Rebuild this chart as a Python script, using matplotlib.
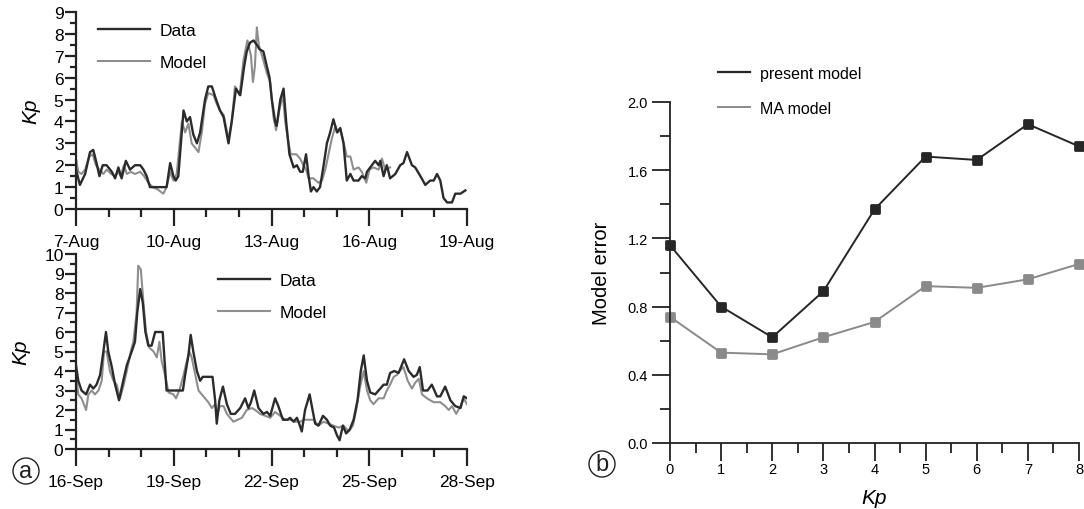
import matplotlib
matplotlib.use("Agg")
import matplotlib.pyplot as plt
from matplotlib.markers import MarkerStyle
from matplotlib.patches import Ellipse
from matplotlib.lines import Line2D
from matplotlib.ticker import MultipleLocator

plt.rcParams['font.family'] = ['Liberation Sans', 'DejaVu Sans']

# ---------------- data ----------------
# Panel (a) top: days since 7-Aug
aug_tick_labels = ["7-Aug", "10-Aug", "13-Aug", "16-Aug", "19-Aug"]
aug_data_t = [0.00, 0.12, 0.28, 0.43, 0.53, 0.63, 0.72, 0.82, 0.94, 1.10, 1.20, 1.30, 1.40, 1.53,
              1.66, 1.81, 1.97, 2.07, 2.17, 2.27, 2.78, 2.89, 2.99, 3.06, 3.14, 3.30, 3.40, 3.50,
              3.60, 3.71, 3.81, 3.96, 4.06, 4.17, 4.30, 4.42, 4.53, 4.68, 4.78, 4.91, 5.04, 5.16,
              5.24, 5.34, 5.45, 5.55, 5.63, 5.75, 5.86, 5.94, 6.01, 6.11, 6.16, 6.27, 6.37, 6.45,
              6.55, 6.68, 6.78, 6.88, 6.96, 7.06, 7.14, 7.21, 7.29, 7.39, 7.49, 7.60, 7.70, 7.80,
              7.90, 8.01, 8.11, 8.21, 8.31, 8.42, 8.52, 8.67, 8.77, 8.88, 8.93, 9.08, 9.18, 9.29,
              9.34, 9.44, 9.54, 9.64, 9.80, 9.95, 10.05, 10.16, 10.31, 10.41, 10.57, 10.72, 10.87,
              10.98, 11.08, 11.18, 11.28, 11.39, 11.54, 11.64, 11.80, 11.95]
aug_data_kp = [1.8, 1.1, 1.6, 2.6, 2.7, 2.1, 1.5, 2.0, 2.0, 1.7, 1.4, 1.9, 1.4, 2.2,
               1.8, 2.0, 2.0, 1.8, 1.5, 1.0, 1.0, 2.1, 1.5, 1.3, 1.5, 4.5, 4.0, 4.2,
               3.4, 3.0, 3.5, 5.0, 5.6, 5.6, 5.0, 4.5, 4.2, 3.0, 4.0, 5.5, 5.2, 6.5,
               7.2, 7.6, 7.7, 7.5, 7.3, 7.2, 6.5, 6.0, 5.0, 4.0, 3.8, 5.0, 5.5, 4.0,
               2.5, 1.9, 2.0, 1.7, 1.7, 2.5, 1.5, 0.8, 1.0, 0.8, 1.0, 2.0, 3.0, 3.5,
               4.1, 3.5, 3.7, 3.0, 1.3, 1.6, 1.3, 1.3, 1.5, 1.4, 1.7, 2.0, 2.2, 2.0,
               2.2, 1.5, 2.0, 1.4, 1.6, 2.0, 2.1, 2.6, 2.0, 1.9, 1.5, 1.1, 1.3,
               1.3, 1.6, 1.3, 0.5, 0.3, 0.3, 0.7, 0.7, 0.85]
aug_model_t = [0.00, 0.07, 0.17, 0.28, 0.41, 0.51, 0.61, 0.72, 0.84, 0.94, 1.08, 1.20, 1.30, 1.37,
               1.47, 1.56, 1.68, 1.81, 1.97, 2.09, 2.22, 2.35, 2.50, 2.68, 2.78, 2.89, 2.99, 3.09,
               3.25, 3.35, 3.45, 3.55, 3.76, 3.86, 3.96, 4.06, 4.22, 4.32, 4.42, 4.53, 4.68, 4.78,
               4.88, 5.02, 5.14, 5.26, 5.37, 5.43, 5.49, 5.55, 5.61, 5.71, 5.86, 5.96, 6.06, 6.14,
               6.25, 6.35, 6.42, 6.49, 6.59, 6.76, 6.88, 6.98, 7.06, 7.14, 7.29, 7.44, 7.55, 7.65,
               7.75, 7.85, 7.96, 8.03, 8.11, 8.19, 8.31, 8.42, 8.52, 8.67, 8.77, 8.91, 9.01, 9.13,
               9.29, 9.39, 9.49, 9.64]
aug_model_kp = [2.3, 1.7, 1.6, 1.8, 2.4, 2.5, 2.0, 1.8, 1.6, 1.8, 1.6, 1.5, 1.7, 1.5,
                2.0, 1.6, 1.7, 1.6, 1.7, 1.5, 1.2, 1.0, 0.9, 0.7, 1.0, 1.7, 1.3, 1.6,
                4.0, 3.5, 3.9, 3.0, 2.6, 3.5, 4.8, 5.3, 5.2, 4.8, 4.5, 4.3, 3.2, 4.0,
                5.6, 5.2, 6.8, 7.7, 7.0, 5.8, 6.5, 8.3, 7.5, 7.0, 6.2, 5.8, 4.2, 3.6,
                4.6, 5.2, 4.0, 3.3, 2.5, 2.5, 2.3, 2.0, 1.8, 1.4, 1.4, 1.2, 1.3, 1.8,
                2.5, 3.2, 3.8, 3.5, 3.6, 3.2, 2.4, 2.4, 1.8, 1.9, 1.7, 1.2, 1.8, 1.9,
                1.8, 2.3, 1.8, 1.9]

# Panel (a) bottom: days since 16-Sep
sep_tick_labels = ["16-Sep", "19-Sep", "22-Sep", "25-Sep", "28-Sep"]
sep_data_t = [0.00, 0.07, 0.17, 0.31, 0.43, 0.53, 0.63, 0.74, 0.84, 0.92, 0.99, 1.10, 1.20, 1.32,
              1.45, 1.56, 1.71, 1.81, 1.88, 1.97, 2.05, 2.13, 2.22, 2.32, 2.43, 2.66, 2.78, 3.28,
              3.35, 3.45, 3.52, 3.60, 3.71, 3.81, 3.89, 4.19, 4.27, 4.32, 4.40, 4.51, 4.63, 4.75,
              4.88, 5.04, 5.19, 5.29, 5.37, 5.47, 5.60, 5.75, 5.86, 5.96, 6.11, 6.21, 6.35, 6.49,
              6.57, 6.68, 6.78, 6.85, 6.93, 7.03, 7.17, 7.26, 7.34, 7.44, 7.58, 7.70, 7.80, 7.92,
              8.01, 8.09, 8.19, 8.29, 8.40, 8.52, 8.64, 8.74, 8.83, 8.93, 9.03, 9.18, 9.34, 9.44,
              9.54, 9.64, 9.77, 9.90, 9.95, 10.07, 10.21, 10.36, 10.46, 10.55, 10.65, 10.79, 10.92,
              11.08, 11.18, 11.33, 11.49, 11.64, 11.80, 11.90, 12.00]
sep_data_kp = [4.3, 3.5, 3.0, 2.8, 3.3, 3.1, 3.3, 3.8, 5.0, 6.0, 5.0, 4.2, 3.3, 2.5,
               3.5, 4.3, 5.0, 5.5, 7.0, 8.2, 7.5, 6.0, 5.3, 5.3, 6.0, 6.0, 3.0, 3.0,
               3.8, 4.8, 5.85, 5.0, 4.0, 3.5, 3.7, 3.7, 2.5, 1.3, 2.5, 3.2, 2.3, 1.8,
               1.8, 2.1, 2.6, 2.1, 2.4, 3.0, 2.1, 1.8, 1.9, 1.7, 2.6, 2.2, 1.5, 1.5,
               1.6, 1.4, 1.6, 1.3, 0.9, 2.0, 2.8, 2.0, 1.3, 1.2, 1.7, 1.5, 1.2, 1.1,
               0.7, 0.45, 1.2, 0.8, 1.0, 1.5, 2.5, 4.0, 4.8, 3.5, 2.9, 2.8, 3.1, 3.3,
               3.3, 3.9, 4.0, 3.9, 4.1, 4.6, 4.0, 3.7, 3.8, 4.2, 3.0, 3.0, 3.3,
               2.7, 2.7, 3.2, 2.5, 2.2, 2.1, 2.7, 2.6]
sep_model_t = [0.00, 0.07, 0.17, 0.31, 0.38, 0.48, 0.58, 0.69, 0.79, 0.86, 0.94, 1.04, 1.15, 1.25,
               1.35, 1.45, 1.56, 1.68, 1.76, 1.86, 1.91, 1.99, 2.07, 2.15, 2.25, 2.38, 2.48, 2.56,
               2.63, 2.73, 2.84, 2.99, 3.07, 3.19, 3.30, 3.40, 3.48, 3.55, 3.66, 3.76, 3.86, 3.96,
               4.06, 4.17, 4.27, 4.34, 4.42, 4.53, 4.63, 4.83, 4.96, 5.09, 5.24, 5.40, 5.50, 5.65,
               5.81, 5.96, 6.11, 6.27, 6.42, 6.57, 6.73, 6.88, 7.00, 7.14, 7.29, 7.44, 7.60, 7.75,
               7.90, 8.06, 8.21, 8.37, 8.50, 8.60, 8.72, 8.83, 8.93, 9.03, 9.13, 9.29, 9.44, 9.54,
               9.64, 9.75, 9.85, 9.93, 10.05, 10.18, 10.31, 10.41, 10.52, 10.62, 10.77, 10.87, 10.98,
               11.08, 11.18, 11.33, 11.44, 11.54, 11.67, 11.80, 11.90, 12.00]
sep_model_kp = [3.8, 2.8, 2.6, 2.0, 2.8, 3.0, 2.8, 3.0, 3.5, 5.0, 5.0, 4.0, 3.5, 3.3,
                2.6, 3.2, 4.0, 5.0, 5.5, 7.0, 9.4, 9.2, 7.5, 6.0, 5.2, 5.0, 4.7, 5.5,
                4.5, 3.8, 2.9, 2.8, 2.6, 3.1, 3.8, 4.5, 5.0, 4.7, 3.8, 3.0, 2.8, 2.6,
                2.4, 2.1, 2.3, 1.8, 2.2, 2.2, 1.8, 1.4, 1.5, 1.6, 2.0, 2.1, 2.0, 1.8,
                1.7, 1.6, 1.9, 1.7, 1.5, 1.5, 1.4, 1.4, 1.5, 1.5, 1.5, 1.2, 1.4, 1.3,
                1.2, 1.1, 1.2, 0.9, 1.2, 2.0, 3.2, 4.0, 3.0, 2.5, 2.3, 2.6, 2.6, 3.0,
                3.3, 3.7, 3.8, 4.0, 4.2, 3.5, 3.1, 3.4, 3.6, 2.8, 2.6, 2.5, 2.4,
                2.4, 2.4, 2.2, 2.0, 2.2, 1.8, 2.2, 2.6, 2.3]

# Panel (b)
kp_levels = [0, 1, 2, 3, 4, 5, 6, 7, 8]
present_model_err = [1.16, 0.80, 0.62, 0.89, 1.37, 1.68, 1.66, 1.87, 1.74]
ma_model_err = [0.74, 0.53, 0.52, 0.62, 0.71, 0.92, 0.91, 0.96, 1.05]

# ---------------- figure ----------------
W, H = 1084, 510
fig = plt.figure(figsize=(W / 100, H / 100), dpi=100)

def rect(x0, y0, x1, y1):
    return [x0 / W, 1 - y1 / H, (x1 - x0) / W, (y1 - y0) / H]

DARK = '#2b2b2b'
GRAY = '#8e8e8e'

def style_ts(ax, ymax, labels):
    for s in ('top', 'right'):
        ax.spines[s].set_visible(False)
    for s in ('left', 'bottom'):
        ax.spines[s].set_linewidth(1.6)
        ax.spines[s].set_color('#222222')
    ax.set_xlim(0, 12)
    ax.set_ylim(0, ymax)
    ax.set_xticks([0, 3, 6, 9, 12])
    ax.set_xticklabels(labels)
    ax.xaxis.set_minor_locator(MultipleLocator(1))
    ax.set_yticks(range(0, ymax + 1))
    ax.yaxis.set_minor_locator(MultipleLocator(0.5))
    ax.tick_params(axis='x', which='major', direction='out', length=12, width=1.6,
                   labelsize=12.5, pad=6, color='#222222')
    ax.tick_params(axis='x', which='minor', direction='out', length=6, width=1.6,
                   color='#222222')
    ax.tick_params(axis='y', which='major', direction='out', length=8, width=1.6,
                   labelsize=12.5, pad=1, color='#222222')
    ax.tick_params(axis='y', which='minor', direction='out', length=4, width=1.6,
                   color='#222222')
    ax.set_ylabel('Kp', fontsize=15, style='italic', labelpad=10)

def ts_legend(ax, x, y):
    h = [Line2D([], [], color=DARK, lw=1.7), Line2D([], [], color=GRAY, lw=1.5)]
    ax.legend(h, ['Data', 'Model'], loc='upper left', bbox_to_anchor=(x / W, 1 - y / H),
              bbox_transform=fig.transFigure, frameon=False, fontsize=12.5,
              handlelength=3.0, handletextpad=0.55, labelspacing=0.95,
              borderpad=0, borderaxespad=0)

# top panel
ax1 = fig.add_axes(rect(76, 13, 467, 210))
ax1.plot(aug_model_t, aug_model_kp, color=GRAY, lw=1.5, zorder=2)
ax1.plot(aug_data_t, aug_data_kp, color=DARK, lw=1.7, zorder=3)
style_ts(ax1, 9, aug_tick_labels)
ts_legend(ax1, 98, 24)

# bottom panel
ax2 = fig.add_axes(rect(76, 255, 467, 450))
ax2.plot(sep_model_t, sep_model_kp, color=GRAY, lw=1.5, zorder=2)
ax2.plot(sep_data_t, sep_data_kp, color=DARK, lw=1.7, zorder=3)
style_ts(ax2, 10, sep_tick_labels)
ts_legend(ax2, 218, 274)

# right panel
ax3 = fig.add_axes(rect(670, 103, 1079, 444))
mk = MarkerStyle('s', joinstyle='round')
ax3.plot(kp_levels, present_model_err, color='#262626', lw=1.4, marker=mk,
         markersize=5.5, markeredgewidth=2, clip_on=False, zorder=3)
ax3.plot(kp_levels, ma_model_err, color='#8a8a8a', lw=1.4, marker=mk,
         markersize=5.5, markeredgewidth=2, clip_on=False, zorder=2)
for s in ('top', 'right'):
    ax3.spines[s].set_visible(False)
for s in ('left', 'bottom'):
    ax3.spines[s].set_linewidth(1.3)
    ax3.spines[s].set_color('#222222')
ax3.set_xlim(0, 8)
ax3.set_ylim(0, 2.0)
ax3.set_xticks(kp_levels)
ax3.xaxis.set_minor_locator(MultipleLocator(0.5))
ax3.set_yticks([0.0, 0.4, 0.8, 1.2, 1.6, 2.0])
ax3.set_yticklabels(['0.0', '0.4', '0.8', '1.2', '1.6', '2.0'])
ax3.yaxis.set_minor_locator(MultipleLocator(0.2))
ax3.tick_params(axis='x', which='major', direction='out', length=13, width=1.3,
                labelsize=10.5, pad=1, color='#222222')
ax3.tick_params(axis='x', which='minor', direction='out', length=7, width=1.3, color='#222222')
ax3.tick_params(axis='y', which='major', direction='out', length=13, width=1.3,
                labelsize=10.5, pad=3, color='#222222')
ax3.tick_params(axis='y', which='minor', direction='out', length=7, width=1.3, color='#222222')
ax3.set_ylabel('Model error', fontsize=14.5, labelpad=12)
ax3.set_xlabel('Kp', fontsize=15, style='italic', labelpad=8)
h3 = [Line2D([], [], color='#262626', lw=1.6), Line2D([], [], color='#8a8a8a', lw=1.4)]
ax3.legend(h3, ['present model', 'MA model'], loc='upper left',
           bbox_to_anchor=(718 / W, 1 - 67 / H),
           bbox_transform=fig.transFigure, frameon=False, fontsize=11.5,
           handlelength=2.0, handletextpad=0.6, labelspacing=1.25,
           borderpad=0, borderaxespad=0)

# panel letters
for (cx, cy, letter) in [(26, 472, 'a'), (602, 465, 'b')]:
    fig.patches.append(Ellipse((cx / W, 1 - cy / H), 26 / W, 26 / H,
                               transform=fig.transFigure, fill=False,
                               edgecolor='#222222', lw=1.0))
    fig.text(cx / W, 1 - cy / H, letter, ha='center', va='center', fontsize=17,
             color='#222222')

fig.savefig('out.png', dpi=100)
